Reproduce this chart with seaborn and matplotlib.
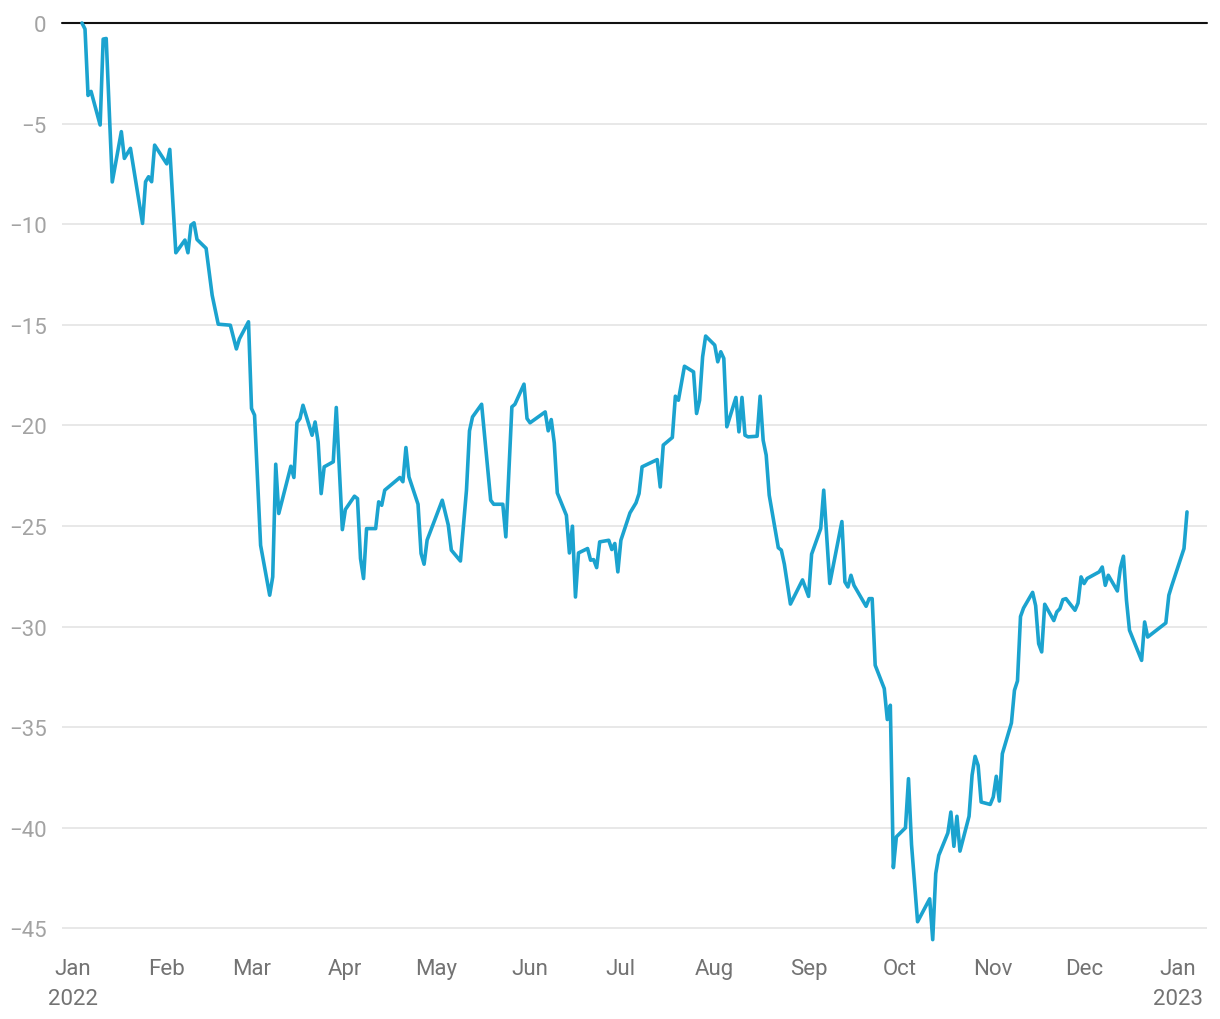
import pandas as pd
import numpy as np
import matplotlib
matplotlib.use("Agg")
import matplotlib.pyplot as plt
import matplotlib.dates as mdates
import seaborn as sns

dates = [
    "2022-01-04", "2022-01-05", "2022-01-06", "2022-01-07", "2022-01-10", "2022-01-11", "2022-01-12",
    "2022-01-14", "2022-01-17", "2022-01-18", "2022-01-20", "2022-01-24", "2022-01-25", "2022-01-26",
    "2022-01-27", "2022-01-28", "2022-02-01", "2022-02-02", "2022-02-04", "2022-02-07", "2022-02-08",
    "2022-02-09", "2022-02-10", "2022-02-11", "2022-02-14", "2022-02-16", "2022-02-18", "2022-02-22",
    "2022-02-24", "2022-02-25", "2022-02-28", "2022-03-01", "2022-03-02", "2022-03-04", "2022-03-07",
    "2022-03-08", "2022-03-09", "2022-03-10", "2022-03-14", "2022-03-15", "2022-03-16", "2022-03-17",
    "2022-03-18", "2022-03-21", "2022-03-22", "2022-03-23", "2022-03-24", "2022-03-25", "2022-03-28",
    "2022-03-29", "2022-03-31", "2022-04-01", "2022-04-04", "2022-04-05", "2022-04-06", "2022-04-07",
    "2022-04-08", "2022-04-11", "2022-04-12", "2022-04-13", "2022-04-14", "2022-04-19", "2022-04-20",
    "2022-04-21", "2022-04-22", "2022-04-25", "2022-04-26", "2022-04-27", "2022-04-28", "2022-05-03",
    "2022-05-05", "2022-05-06", "2022-05-09", "2022-05-11", "2022-05-12", "2022-05-13", "2022-05-16",
    "2022-05-19", "2022-05-20", "2022-05-23", "2022-05-24", "2022-05-26", "2022-05-27", "2022-05-30",
    "2022-05-31", "2022-06-01", "2022-06-06", "2022-06-07", "2022-06-08", "2022-06-09", "2022-06-10",
    "2022-06-13", "2022-06-14", "2022-06-15", "2022-06-16", "2022-06-17", "2022-06-20", "2022-06-21",
    "2022-06-22", "2022-06-23", "2022-06-24", "2022-06-27", "2022-06-28", "2022-06-29", "2022-06-30",
    "2022-07-01", "2022-07-04", "2022-07-06", "2022-07-07", "2022-07-08", "2022-07-13", "2022-07-14",
    "2022-07-15", "2022-07-18", "2022-07-19", "2022-07-20", "2022-07-22", "2022-07-25", "2022-07-26",
    "2022-07-27", "2022-07-28", "2022-07-29", "2022-08-01", "2022-08-02", "2022-08-03", "2022-08-04",
    "2022-08-05", "2022-08-08", "2022-08-09", "2022-08-10", "2022-08-11", "2022-08-12", "2022-08-15",
    "2022-08-16", "2022-08-17", "2022-08-18", "2022-08-19", "2022-08-22", "2022-08-23", "2022-08-24",
    "2022-08-26", "2022-08-30", "2022-09-01", "2022-09-02", "2022-09-05", "2022-09-06", "2022-09-08",
    "2022-09-12", "2022-09-13", "2022-09-14", "2022-09-15", "2022-09-16", "2022-09-20", "2022-09-21",
    "2022-09-22", "2022-09-23", "2022-09-26", "2022-09-27", "2022-09-28", "2022-09-29", "2022-09-30",
    "2022-10-03", "2022-10-04", "2022-10-05", "2022-10-07", "2022-10-11", "2022-10-12", "2022-10-13",
    "2022-10-14", "2022-10-17", "2022-10-18", "2022-10-19", "2022-10-20", "2022-10-21", "2022-10-24",
    "2022-10-25", "2022-10-26", "2022-10-27", "2022-10-28", "2022-10-31", "2022-11-01", "2022-11-02",
    "2022-11-03", "2022-11-04", "2022-11-07", "2022-11-08", "2022-11-09", "2022-11-10", "2022-11-11",
    "2022-11-14", "2022-11-15", "2022-11-16", "2022-11-17", "2022-11-18", "2022-11-21", "2022-11-22",
    "2022-11-23", "2022-11-24", "2022-11-25", "2022-11-28", "2022-11-29", "2022-11-30", "2022-12-01",
    "2022-12-02", "2022-12-06", "2022-12-07", "2022-12-08", "2022-12-09", "2022-12-12", "2022-12-13",
    "2022-12-14", "2022-12-15", "2022-12-16", "2022-12-19", "2022-12-20", "2022-12-21", "2022-12-22",
    "2022-12-28", "2022-12-29", "2022-12-30", "2023-01-03", "2023-01-04",
]

values = [
    0.0, -0.3, -3.6, -3.4, -5.07, -0.8, -0.77,
    -7.9, -5.4, -6.73, -6.23, -9.96, -7.89, -7.64,
    -7.89, -6.07, -7.0, -6.28, -11.42, -10.79, -11.42,
    -10.05, -9.93, -10.76, -11.2, -13.53, -14.97, -15.02,
    -16.2, -15.7, -14.85, -19.16, -19.49, -25.96, -28.44,
    -27.53, -21.93, -24.38, -22.03, -22.59, -19.87, -19.66,
    -19.0, -20.49, -19.83, -20.82, -23.39, -22.06, -21.81,
    -19.11, -25.18, -24.18, -23.52, -23.64, -26.62, -27.61,
    -25.13, -25.13, -23.8, -23.97, -23.22, -22.59, -22.8,
    -21.1, -22.56, -23.92, -26.37, -26.9, -25.7, -23.72,
    -24.96, -26.2, -26.74, -23.22, -20.27, -19.58, -18.95,
    -23.72, -23.92, -23.92, -25.54, -19.08, -18.95, -17.95,
    -19.66, -19.87, -19.33, -20.27, -19.71, -20.87, -23.36,
    -24.47, -26.34, -25.01, -28.53, -26.34, -26.12, -26.7,
    -26.67, -27.07, -25.79, -25.71, -26.17, -25.87, -27.28,
    -25.71, -24.35, -23.85, -23.39, -22.06, -21.7, -23.06,
    -20.98, -20.6, -18.55, -18.75, -17.06, -17.34, -19.41,
    -18.75, -16.59, -15.56, -16.01, -16.84, -16.34, -16.67,
    -20.07, -18.61, -20.32, -18.61, -20.49, -20.57, -20.54,
    -18.55, -20.74, -21.48, -23.47, -26.08, -26.2, -26.9,
    -28.88, -27.68, -28.5, -26.4, -25.13, -23.22, -27.86,
    -24.78, -27.78, -28.03, -27.45, -27.95, -28.99, -28.61,
    -28.61, -31.92, -33.08, -34.62, -33.91, -41.98, -40.45,
    -40.0, -37.56, -40.83, -44.67, -43.53, -45.56, -42.28,
    -41.37, -40.26, -39.22, -40.92, -39.43, -41.16, -39.43,
    -37.39, -36.45, -36.9, -38.72, -38.84, -38.47, -37.44,
    -38.67, -36.32, -34.79, -33.17, -32.7, -29.5, -29.08,
    -28.3, -28.96, -30.85, -31.26, -28.89, -29.7, -29.27,
    -29.11, -28.66, -28.61, -29.19, -28.83, -27.53, -27.86,
    -27.61, -27.28, -27.04, -27.95, -27.45, -28.23, -27.07,
    -26.5, -28.69, -30.18, -31.31, -31.68, -29.77, -30.52,
    -29.82, -28.44, -27.95, -26.12, -24.3,
]

y_ticks = [0, -5, -10, -15, -20, -25, -30, -35, -40, -45]
month_ticks = ["2022-01-01", "2022-02-01", "2022-03-01", "2022-04-01", "2022-05-01", "2022-06-01",
               "2022-07-01", "2022-08-01", "2022-09-01", "2022-10-01", "2022-11-01", "2022-12-01",
               "2023-01-01"]
month_labels = ["Jan\n2022", "Feb", "Mar", "Apr", "May", "Jun", "Jul", "Aug", "Sep", "Oct",
                "Nov", "Dec", "Jan\n2023"]

df = pd.DataFrame({"date": pd.to_datetime(dates), "value": values})

sns.set_theme(style="white")
plt.rcParams["font.family"] = ["Roboto", "DejaVu Sans"]
plt.rcParams["axes.unicode_minus"] = True

fig = plt.figure(figsize=(12.2, 10.2), dpi=100)
top_px, bot_px = 24.0, 949.5
ax = fig.add_axes([62 / 1220, 1 - bot_px / 1020, (1207 - 62) / 1220, (bot_px - top_px) / 1020])

for t in y_ticks[1:]:
    ax.axhline(t, color="#e4e4e4", lw=1.2, zorder=0)
ax.axhline(0, color="#111111", lw=1.5, zorder=1, clip_on=False)

sns.lineplot(data=df, x="date", y="value", ax=ax, color="#1ba3cf", lw=2.6,
             zorder=3, clip_on=False)

base = mdates.date2num(pd.Timestamp("2022-01-01"))
ax.set_xlim(base - 3.6, base + 374.6)
ax.set_ylim(-46, 0)

ax.set_yticks(y_ticks)
ax.set_yticklabels([str(t).replace("-", "\u2212") for t in y_ticks])
ax.set_xticks(pd.to_datetime(month_ticks))
ax.set_xticklabels(month_labels, linespacing=1.55)

ax.tick_params(axis="both", length=0, labelsize=16)
ax.tick_params(axis="y", pad=11, colors="#a3a3a3")
ax.tick_params(axis="x", pad=7, colors="#737373")
ax.set_xlabel("")
ax.set_ylabel("")
for s in ax.spines.values():
    s.set_visible(False)
ax.grid(False)

fig.savefig("out.png", dpi=100)
